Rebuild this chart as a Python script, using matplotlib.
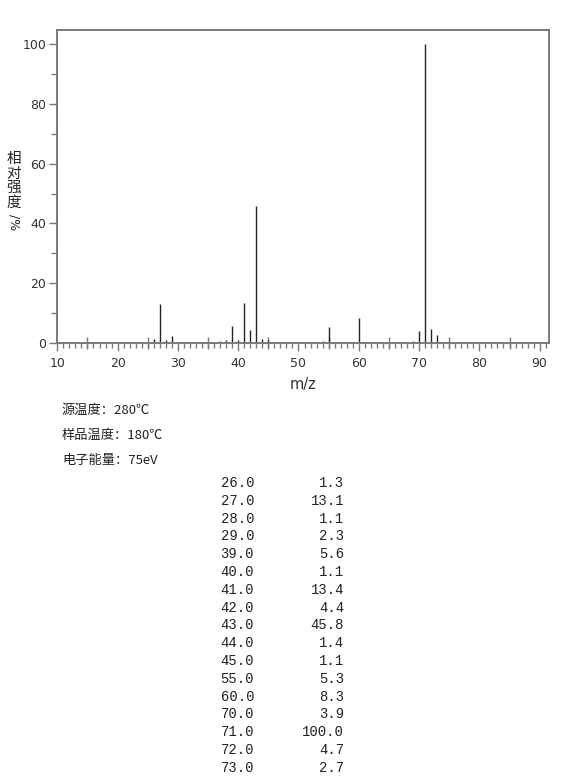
import matplotlib
matplotlib.use("Agg")
import matplotlib.pyplot as plt
from matplotlib.ticker import FixedLocator, NullFormatter

plt.rcParams['font.family'] = ['DejaVu Sans', 'Noto Sans CJK SC']

# Peak list (m/z, relative intensity %)
mz = [26, 27, 28, 29, 37, 38, 39, 40, 41, 42, 43, 44, 45, 53, 54, 55, 60, 69, 70, 71, 72, 73]
intensity = [1.3, 13.1, 1.1, 2.3, 0.6, 0.9, 5.6, 1.1, 13.4, 4.4, 45.8, 1.4, 1.1,
             0.5, 0.7, 5.3, 8.3, 0.8, 3.9, 100.0, 4.7, 2.7]

# Tabulated peaks
table_mz = ["26.0", "27.0", "28.0", "29.0", "39.0", "40.0", "41.0", "42.0", "43.0",
            "44.0", "45.0", "55.0", "60.0", "70.0", "71.0", "72.0", "73.0"]
table_int = ["1.3", "13.1", "1.1", "2.3", "5.6", "1.1", "13.4", "4.4", "45.8",
             "1.4", "1.1", "5.3", "8.3", "3.9", "100.0", "4.7", "2.7"]

conditions = ["源温度：280℃", "样品温度：180℃", "电子能量：75eV"]

W, H = 570, 778
fig = plt.figure(figsize=(W / 100, H / 100), dpi=100)
ax = fig.add_axes([57.3 / W, 1 - 343 / H, 492 / W, 313 / H])

spine_c = "#7a7a7a"
text_c = "#333333"

ax.vlines(mz, 0, intensity, color="#222222", linewidth=1.0)
ax.set_xlim(10, 91.6)
ax.set_ylim(0, 104.7)

for s in ax.spines.values():
    s.set_color(spine_c)
    s.set_linewidth(1.4)

ax.xaxis.set_major_locator(FixedLocator(list(range(10, 91, 10))))
ax.xaxis.set_minor_locator(FixedLocator(list(range(11, 92))))
ax.yaxis.set_major_locator(FixedLocator(list(range(0, 101, 20))))
ax.yaxis.set_minor_locator(FixedLocator(list(range(10, 100, 20))))
ax.tick_params(axis="both", which="major", direction="out", length=6, width=1,
               color=spine_c, labelcolor=text_c, labelsize=9)
ax.tick_params(axis="x", which="major", pad=4)
ax.tick_params(axis="y", which="major", pad=2)
ax.tick_params(axis="x", which="minor", direction="out", length=3.5, width=1, color=spine_c)
ax.tick_params(axis="y", which="minor", direction="out", length=4, width=1, color=spine_c)

# Half-decade ticks crossing the baseline
sec = ax.secondary_xaxis("bottom")
sec.xaxis.set_major_locator(FixedLocator(list(range(15, 91, 10))))
sec.xaxis.set_major_formatter(NullFormatter())
sec.tick_params(direction="inout", length=8, width=1, color=spine_c)
sec.spines["bottom"].set_visible(False)

ax.set_xlabel("m/z", fontsize=10.5, color=text_c, labelpad=5)

# Vertical y-axis title: upright CJK characters, then the rotated unit
for i, ch in enumerate("相对强度"):
    fig.text(14 / W, 1 - (159 + i * 14.5) / H, ch, ha="center", va="center",
             fontsize=10.5, color="#222222", family=["Noto Sans CJK SC"])
fig.text(14 / W, 1 - 222 / H, "/%", ha="center", va="center", rotation=-90,
         fontsize=9, color="#222222")

# Acquisition conditions
for i, t in enumerate(conditions):
    fig.text(62 / W, 1 - (410 + i * 25) / H, t, ha="left", va="center",
             fontsize=9.5, color="#222222", family=["Noto Sans CJK SC", "DejaVu Sans"])

# Peak table
for i, (a, b) in enumerate(zip(table_mz, table_int)):
    y = 1 - (483 + i * 17.8) / H
    fig.text(254 / W, y, a, ha="right", va="center", fontsize=10,
             family="Liberation Mono", color="#222222")
    fig.text(344 / W, y, b, ha="right", va="center", fontsize=10,
             family="Liberation Mono", color="#222222")

fig.savefig("out.png", dpi=100)
